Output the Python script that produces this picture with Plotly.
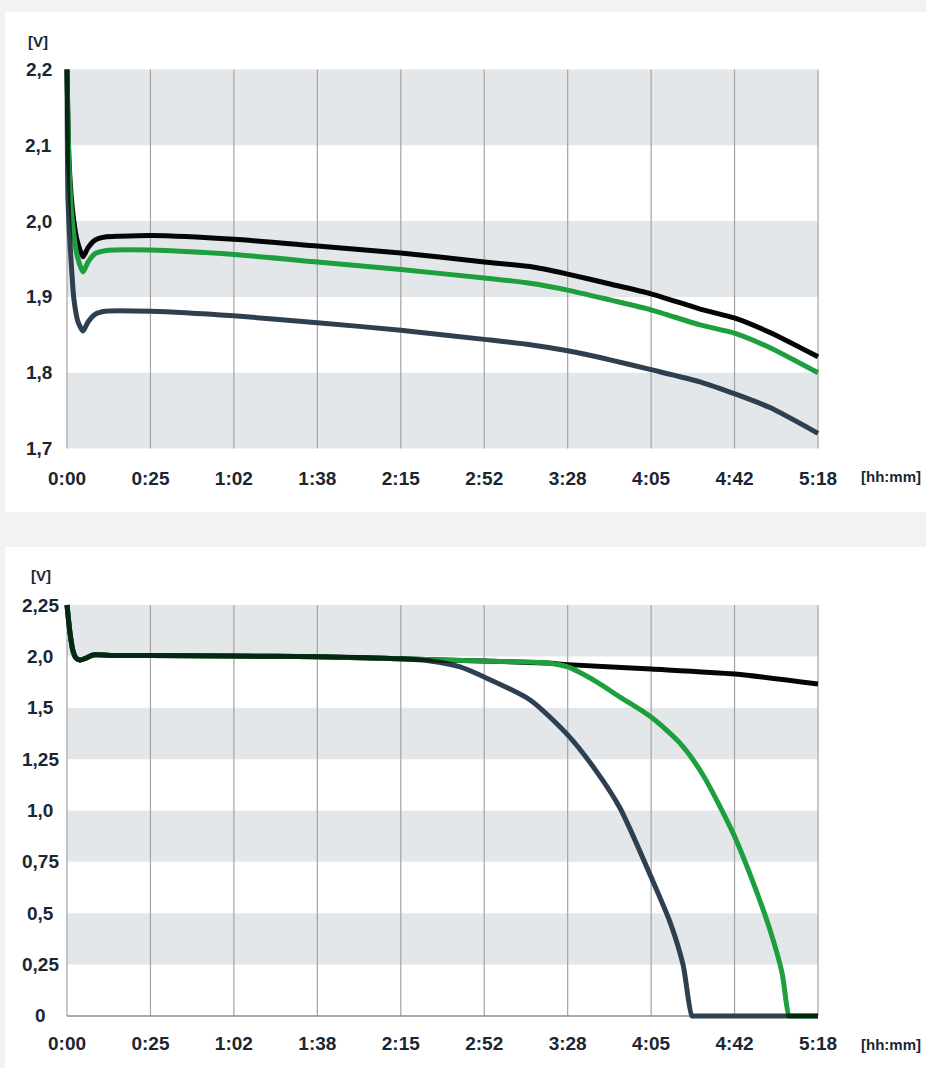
import numpy as np
import plotly.graph_objects as go

W, H = 926, 1068

# ---------------- data ----------------
tick_minutes = [0, 25, 62, 98, 135, 172, 208, 245, 282, 318]
tick_labels = ["0:00", "0:25", "1:02", "1:38", "2:15", "2:52", "3:28", "4:05", "4:42", "5:18"]

# top chart: y axis in volts (linear)
top_ytick_volts = [1.7, 1.8, 1.9, 2.0, 2.1, 2.2]
top_ytick_labels = ["1,7", "1,8", "1,9", "2,0", "2,1", "2,2"]

top_black_min = [0, 0.6, 1.5, 3.0, 4.8, 6.3, 8.4, 11.4, 15.9, 25, 62, 98, 135, 172, 191.8, 208, 226.8, 245, 266.7, 282.2, 297.3, 318]
top_black_v = [2.2, 2.081, 2.021, 1.975, 1.953, 1.965, 1.975, 1.979, 1.980, 1.981, 1.976, 1.967, 1.958, 1.946, 1.940, 1.930, 1.917, 1.904, 1.884, 1.872, 1.853, 1.821]

top_green_min = [0, 0.6, 1.5, 3.0, 4.8, 6.3, 8.4, 11.4, 25, 62, 98, 135, 172, 191.8, 208, 226.8, 245, 266.7, 282.2, 297.3, 318]
top_green_v = [2.2, 2.074, 2.005, 1.955, 1.933, 1.946, 1.957, 1.961, 1.962, 1.956, 1.946, 1.936, 1.925, 1.918, 1.909, 1.896, 1.883, 1.863, 1.852, 1.833, 1.800]

top_navy_min = [0, 0.3, 1.2, 2.1, 3.3, 4.8, 6.3, 8.4, 11.4, 25, 62, 98, 135, 172, 191.8, 208, 226.8, 245, 266.7, 282.2, 297.3, 318]
top_navy_v = [2.2, 2.028, 1.949, 1.896, 1.867, 1.855, 1.867, 1.877, 1.881, 1.881, 1.875, 1.866, 1.856, 1.844, 1.837, 1.829, 1.817, 1.804, 1.788, 1.772, 1.754, 1.720]

# bottom chart: tick labels are evenly spaced
bot_ytick_volts = [0, 0.25, 0.5, 0.75, 1.0, 1.25, 1.5, 2.0, 2.25]
bot_ytick_labels = ["0", "0,25", "0,5", "0,75", "1,0", "1,25", "1,5", "2,0", "2,25"]

bot_black_min = [0, 0.9, 1.8, 2.7, 3.9, 5.7, 7.8, 12.9, 25, 62, 98, 135, 172, 199.1, 208, 245, 282.2, 318]
bot_black_v = [2.255, 2.114, 2.026, 1.984, 1.965, 1.984, 2.007, 2.005, 2.005, 2.002, 1.997, 1.976, 1.955, 1.935, 1.920, 1.877, 1.828, 1.731]

bot_green_min = [0, 0.9, 1.8, 2.7, 3.9, 5.7, 7.8, 12.9, 25, 62, 98, 135, 172, 199.1, 208, 221, 231.2, 245, 257.8, 268.0, 281.3, 289.6, 297.3, 302.5, 305.5, 306.5, 318]
bot_green_v = [2.255, 2.114, 2.026, 1.984, 1.965, 1.984, 2.007, 2.005, 2.005, 2.002, 1.997, 1.976, 1.955, 1.935, 1.897, 1.750, 1.604, 1.455, 1.328, 1.173, 0.891, 0.662, 0.418, 0.209, 0.0, 0.0, 0.0]

bot_navy_min = [0, 0.9, 1.8, 2.7, 3.9, 5.7, 7.8, 12.9, 25, 62, 98, 135, 148, 161.3, 172, 191.8, 208, 221, 231.2, 245, 253.4, 259.2, 263.1, 264.3, 318]
bot_navy_v = [2.255, 2.114, 2.026, 1.984, 1.965, 1.984, 2.007, 2.005, 2.005, 2.002, 1.997, 1.976, 1.955, 1.897, 1.799, 1.576, 1.368, 1.187, 1.012, 0.676, 0.457, 0.248, 0.0, 0.0, 0.0]

# ---------------- styles ----------------
BG = "#f2f2f2"
BAND = "#e4e7ea"
GRID = "#a3a3a3"
TXT = "#1b2633"
C_BLACK = "#050505"
C_GREEN = "#1c9f3c"
C_NAVY = "#2e3f4f"
FONT = "Liberation Sans, Arial, Helvetica, sans-serif"
LW = 5

tick_idx = list(range(len(tick_minutes)))
def xpos(m):
    return np.interp(m, tick_minutes, tick_idx)

bot_idx = list(range(len(bot_ytick_volts)))
def ybot(v):
    return np.interp(v, bot_ytick_volts, bot_idx)

fig = go.Figure()

def add(xm, yv, color, xa, ya, smooth):
    fig.add_trace(go.Scatter(x=xpos(xm), y=yv, mode="lines",
                             line=dict(color=color, width=LW, shape="spline", smoothing=smooth),
                             xaxis=xa, yaxis=ya, showlegend=False, hoverinfo="skip"))

add(top_black_min, top_black_v, C_BLACK, "x", "y", 0.6)
add(top_green_min, top_green_v, C_GREEN, "x", "y", 0.6)
add(top_navy_min, top_navy_v, C_NAVY, "x", "y", 0.6)
add(bot_black_min, ybot(bot_black_v), C_BLACK, "x2", "y2", 0.7)
add(bot_green_min, ybot(bot_green_v), C_GREEN, "x2", "y2", 0.7)
add(bot_navy_min, ybot(bot_navy_v), C_NAVY, "x2", "y2", 0.7)

# geometry (pixels -> paper)
px = lambda x: x / W
py = lambda y: 1 - y / H
x_dom = [px(58.66), px(826.34)]
top_dom = [py(456.1), py(61.9)]
bot_dom = [py(1021.1), py(599.9)]

shapes = []
shapes.append(dict(type="rect", xref="paper", yref="paper", x0=px(5), x1=1, y0=py(512), y1=py(12),
                   fillcolor="white", line=dict(width=0), layer="below"))
shapes.append(dict(type="rect", xref="paper", yref="paper", x0=px(5), x1=1, y0=0, y1=py(547),
                   fillcolor="white", line=dict(width=0), layer="below"))
nmax = len(tick_minutes) - 1
for lo, hi in [(2.1, 2.2), (1.9, 2.0), (1.7, 1.8)]:
    shapes.append(dict(type="rect", xref="x", yref="y", x0=0, x1=nmax, y0=lo, y1=hi,
                       fillcolor=BAND, line=dict(width=0), layer="below"))
for lo, hi in [(7, 8), (5, 6), (3, 4), (1, 2)]:
    shapes.append(dict(type="rect", xref="x2", yref="y2", x0=0, x1=nmax, y0=lo, y1=hi,
                       fillcolor=BAND, line=dict(width=0), layer="below"))
for i in tick_idx:
    shapes.append(dict(type="line", xref="x", yref="y", x0=i, x1=i, y0=top_ytick_volts[0], y1=top_ytick_volts[-1],
                       line=dict(color=GRID, width=1.2), layer="below"))
    shapes.append(dict(type="line", xref="x2", yref="y2", x0=i, x1=i, y0=0, y1=bot_idx[-1],
                       line=dict(color=GRID, width=1.2), layer="below"))
shapes.append(dict(type="line", xref="x2", yref="y2", x0=0, x1=nmax, y0=0, y1=0,
                   line=dict(color="#8c8c8c", width=1.5), layer="below"))

ann = []
def label(text, x, y, xref, yref, size=19, xanchor="center"):
    ann.append(dict(text="<b>%s</b>" % text, x=x, y=y, xref=xref, yref=yref, showarrow=False,
                    xanchor=xanchor, yanchor="middle", font=dict(family=FONT, size=size, color=TXT)))

for v, t in zip(top_ytick_volts, top_ytick_labels):
    label(t, px(38.5), v, "paper", "y")
for i, t in zip(bot_idx, bot_ytick_labels):
    label(t, px(40), i, "paper", "y2")
label("[V]", px(37.5), py(42), "paper", "paper", size=15)
label("[V]", px(41), py(575), "paper", "paper", size=15)
label("[hh:mm]", px(891), py(477), "paper", "paper", size=15)
label("[hh:mm]", px(891), py(1044), "paper", "paper", size=15)

axis_x = dict(domain=x_dom, range=[-0.1, nmax + 0.1], showgrid=False, zeroline=False, showline=False,
              tickmode="array", tickvals=tick_idx, ticktext=tick_labels, ticks="", automargin=False,
              tickfont=dict(family=FONT, size=19, color=TXT, weight="bold"), ticklabelstandoff=9,
              fixedrange=True)
axis_y = dict(showgrid=False, zeroline=False, showticklabels=False, automargin=False, fixedrange=True)

fig.update_layout(
    width=W, height=H, autosize=False,
    margin=dict(l=0, r=0, t=0, b=0, pad=0, autoexpand=False),
    paper_bgcolor=BG, plot_bgcolor="rgba(0,0,0,0)",
    xaxis=dict(axis_x, anchor="y"),
    yaxis=dict(axis_y, domain=top_dom, range=[1.69, 2.21], anchor="x"),
    xaxis2=dict(axis_x, anchor="y2"),
    yaxis2=dict(axis_y, domain=bot_dom, range=[-0.1, bot_idx[-1] + 0.1], anchor="x2"),
    shapes=shapes, annotations=ann, showlegend=False,
)

post = """
document.documentElement.style.margin = '0';
document.documentElement.style.overflow = 'hidden';
document.body.style.margin = '0';
document.body.style.padding = '0';
document.body.style.overflow = 'hidden';
var gd = document.getElementById('{plot_id}');
function blend(){
  gd.querySelectorAll('.scatterlayer').forEach(function(layer){
    var ts = layer.querySelectorAll('g.trace');
    if (ts.length) {
      ts[ts.length-1].querySelectorAll('path').forEach(function(p){ p.style.mixBlendMode = 'multiply'; });
    }
  });
}
blend(); setTimeout(blend, 50); setTimeout(blend, 300);
if (gd.on) { gd.on('plotly_afterplot', blend); }
"""

fig.write_html("out.html", config={"displayModeBar": False, "responsive": False}, post_script=post)
